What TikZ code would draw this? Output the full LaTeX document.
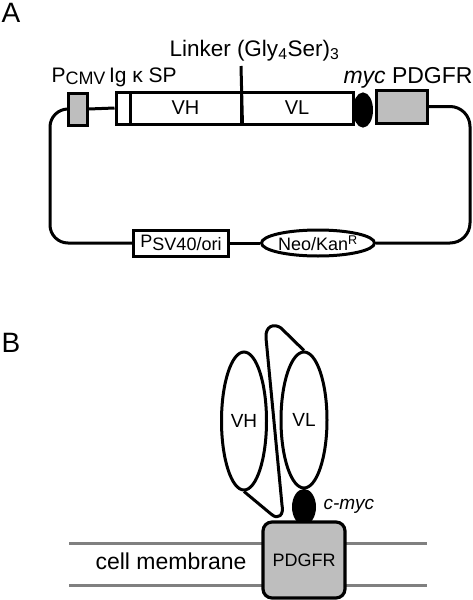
\documentclass[tikz,border=0pt]{standalone}
\usepackage{fontspec}
\setmainfont{Liberation Sans}
\usetikzlibrary{shapes.geometric}
\newcommand\fsz[1]{\fontsize{#1}{#1}\selectfont}
\definecolor{boxgray}{HTML}{BEBEBE}
\definecolor{memgray}{HTML}{808080}
\begin{document}
\begin{tikzpicture}[x=1pt,y=-1pt,line width=3pt,
  blk/.style={draw,line width=3pt,inner sep=0pt,rectangle},
  gblk/.style={blk,fill=boxgray},
  oval/.style={draw,line width=3pt,inner sep=0pt,ellipse},
  lbl/.style={inner sep=0pt,font=\fsz{21}},
  panel/.style={inner sep=0pt,font=\fsz{28}}]
\useasboundingbox (0,0) rectangle (473,600);
% ---------- Panel A ----------
\node[panel] (labA) at (11,13) {A};
\node[gblk,minimum width=19pt,minimum height=32pt] (pcmv) at (77.5,109) {};
\node[blk,minimum width=14pt,minimum height=32pt] (ig) at (123,108) {};
\node[blk,minimum width=111pt,minimum height=32pt,font=\fsz{20}] (vh) at (185.5,108) {VH};
\node[blk,minimum width=112pt,minimum height=32pt,font=\fsz{20}] (vl) at (297,108) {VL};
\coordinate (lnktop) at (241,66);
\draw (vh.south east) -- (lnktop);
\node[oval,fill=black,minimum width=17pt,minimum height=32pt] (mycA) at (363,110) {};
\node[gblk,minimum width=51pt,minimum height=33pt] (pdgfrA) at (401.5,106.5) {};
\node[blk,minimum width=95pt,minimum height=26pt,font=\fsz{18}] (psv) at (181,243)
  {P\raisebox{-0.35ex}{SV40/ori}};
\node[oval,minimum width=113pt,minimum height=26pt,font=\fsz{18}] (neo) at (318,243)
  {Neo/Kan\textsuperscript{R}};
\draw (pcmv.east) -- (ig.west);
\draw[rounded corners=18pt] (pcmv.west) -| (50,243) -- (psv.west);
\draw (psv.east) -- (neo.west);
\draw[rounded corners=20pt] (pdgfrA.east) -| (470,243) -- (neo.east);
\node[lbl,anchor=base west] (lpcmv) at (50,82)
  {P{\fsz{18}\raisebox{-0.3ex}{CMV}}\,Ig κ SP};
\node[lbl,anchor=base west,font=\fsz{22.5}] (llnk) at (168,56)
  {Linker (Gly\textsubscript{4}Ser)\textsubscript{3}};
\node[lbl,anchor=base west,font=\fsz{23}] (lmyc) at (342,83)
  {\itshape myc\upshape\ PDGFR};
% ---------- Panel B ----------
\node[panel] (labB) at (11,343) {B};
\coordinate (m1l) at (69,543); \coordinate (m1r) at (427,543);
\coordinate (m2l) at (69,585); \coordinate (m2r) at (427,585);
\draw[memgray,line width=3pt] (m1l) -- (m1r);
\draw[memgray,line width=3pt] (m2l) -- (m2r);
\node[oval,minimum width=45pt,minimum height=138pt,font=\fsz{19}] (vhB) at (244,421) {VH};
\node[oval,minimum width=46pt,minimum height=136pt,font=\fsz{19}] (vlB) at (304,420) {VL};
\draw[line join=round] (vhB.south) -- (271,514) .. controls (279,521) and (284,514) .. (282,505)
  -- (266,338) .. controls (265,326) and (274,323) .. (281,328) -- (vlB.north);
\node[oval,fill=black,minimum width=21pt,minimum height=33pt] (mycB) at (304,507) {};
\node[draw,line width=3.2pt,fill=boxgray,rounded corners=9pt,minimum width=82pt,
  minimum height=76pt,font=\fsz{18},inner sep=0pt] (pdgfrB) at (304,560) {PDGFR};
\node[inner sep=0pt,anchor=west,font=\fsz{19}\itshape] (lcmyc) at (322,506) {c-myc};
\node[inner sep=0pt,font=\fsz{23}] (lmem) at (171,561) {cell membrane};
\end{tikzpicture}
\end{document}
